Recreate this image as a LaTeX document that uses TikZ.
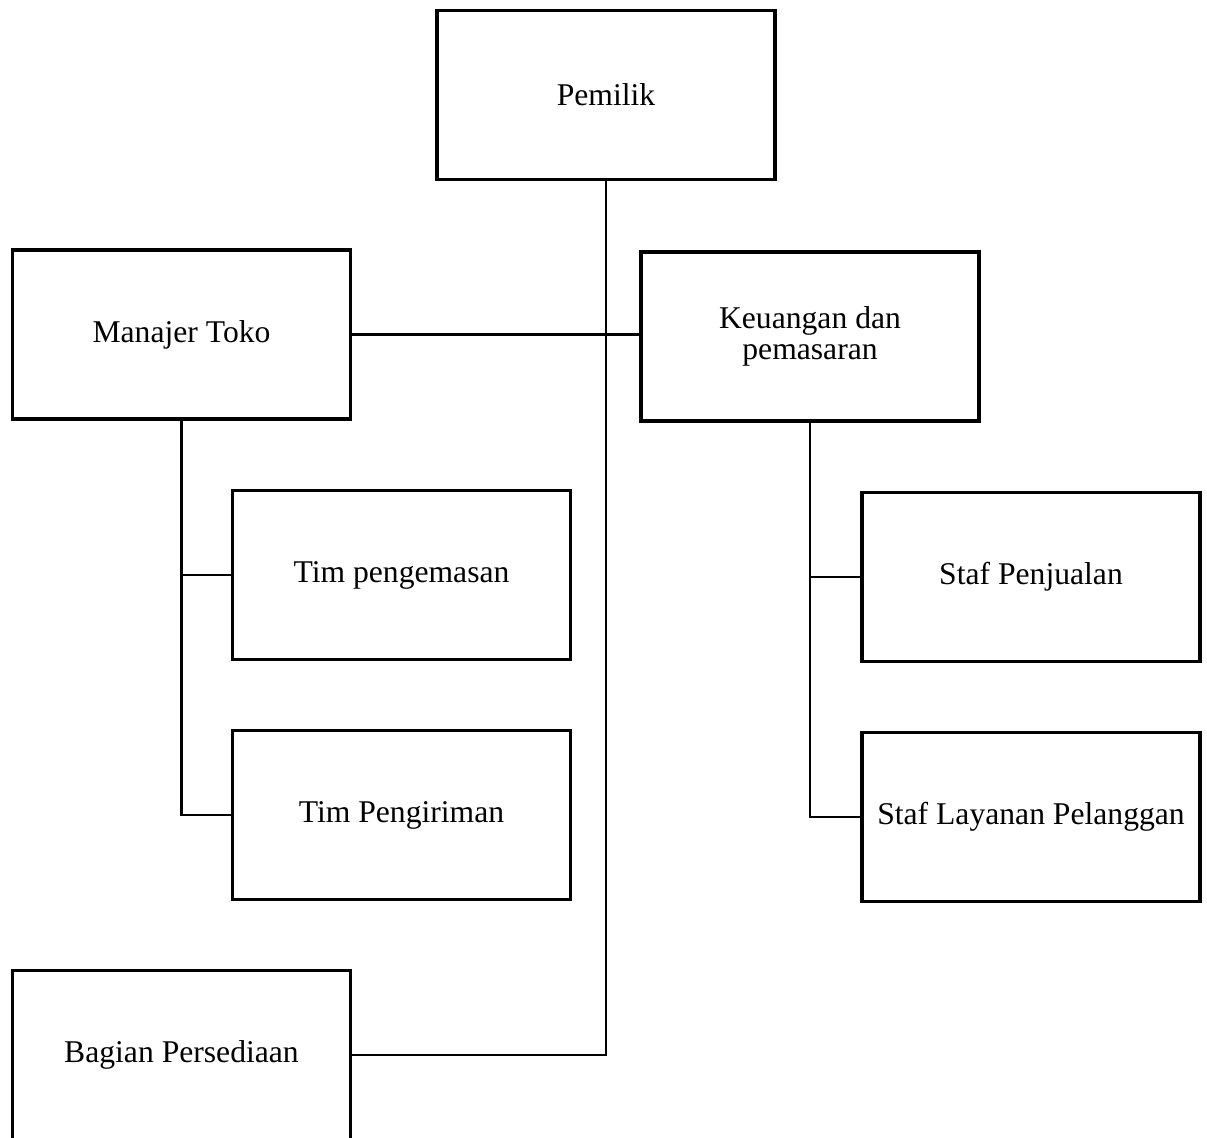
\documentclass[tikz,border=0pt]{standalone}
\usepackage{fontspec}
\setmainfont{Liberation Serif}
\tikzset{
  kotak/.style={draw, line width=1.9pt, minimum width=6.76cm, minimum height=3.38cm,
    align=center, font=\fontsize{18}{17.6}\selectfont, inner sep=0pt},
  garis/.style={line width=1.4pt}
}
\begin{document}
\begin{tikzpicture}
    \useasboundingbox (0,0) rectangle (24.14,-22.74);
    % pemilik
    \node[kotak] (pemilik) at (12.12,-1.9) {Pemilik};
    % manajer dan keuangan
    \node[kotak] (manajer) at (3.63,-6.69) {Manajer Toko};
    \node[kotak] (keuangan) at (16.2,-6.73) {Keuangan dan\\pemasaran};
    % bawahan manajer
    \node[kotak] (kemas) at (8.03,-11.5) {Tim pengemasan};
    \node[kotak] (kirim) at (8.03,-16.3) {Tim Pengiriman};
    % bawahan keuangan
    \node[kotak] (jual) at (20.62,-11.54) {Staf Penjualan};
    \node[kotak] (layanan) at (20.62,-16.34) {Staf Layanan Pelanggan};
    % persediaan
    \node[kotak] (sedia) at (3.63,-21.1) {Bagian Persediaan};
    % garis
    \draw[garis] (pemilik.south) |- (sedia.east);
    \draw[garis] (manajer.east) -- (manajer.east -| keuangan.west);
    \draw[garis] (manajer.south) |- (kirim.west);
    \draw[garis] (manajer.south |- kemas.west) -- (kemas.west);
    \draw[garis] (keuangan.south) |- (layanan.west);
    \draw[garis] (keuangan.south |- jual.west) -- (jual.west);
\end{tikzpicture}
\end{document}
